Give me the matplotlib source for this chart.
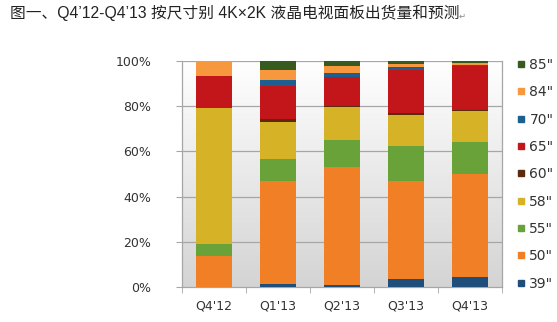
import matplotlib
matplotlib.use('Agg')
import matplotlib.pyplot as plt
from matplotlib.colors import LinearSegmentedColormap
from matplotlib.lines import Line2D
import numpy as np

quarters = ["Q4'12", "Q1'13", "Q2'13", "Q3'13", "Q4'13"]
sizes = ['39"', '50"', '55"', '58"', '60"', '65"', '70"', '84"', '85"']

# share of shipments (%) per size, one list per quarter order
s39 = [0.0, 1.5, 1.2, 3.5, 4.7]
s50 = [13.8, 45.3, 51.7, 43.3, 45.4]
s55 = [5.3, 9.9, 12.3, 15.6, 14.1]
s58 = [60.2, 16.4, 14.4, 13.5, 13.8]
s60 = [0.0, 1.3, 0.6, 0.8, 0.3]
s65 = [13.8, 14.6, 12.6, 19.0, 19.4]
s70 = [0.0, 2.6, 1.8, 1.5, 0.6]
s84 = [6.9, 4.4, 2.9, 1.5, 0.9]
s85 = [0.0, 4.0, 2.5, 1.3, 1.0]

colors = ['#1f4e7a', '#f07f26', '#6aa23a', '#d6b226', '#5a2a0a',
          '#c3161b', '#1d5f8f', '#f7983e', '#375a1f']

series = [s39, s50, s55, s58, s60, s65, s70, s84, s85]

fig = plt.figure(figsize=(5.57, 3.22), dpi=100)
ax = fig.add_axes([0.3268, 0.1078, 0.5745, 0.7037])

# plot area background gradient (white top -> light gray bottom)
cmap = LinearSegmentedColormap.from_list('bg', ['#d4d4d4', '#ffffff'])
grad = np.linspace(0, 1, 256).reshape(-1, 1)
ax.imshow(grad, cmap=cmap, origin='lower', aspect='auto',
          extent=(-0.5, 4.5, 0, 100), zorder=0)

x = np.arange(len(quarters))
bottom = np.zeros(len(quarters))
for vals, c in zip(series, colors):
    ax.bar(x, vals, width=0.5625, bottom=bottom, color=c, zorder=3)
    bottom += np.array(vals)

ax.set_xlim(-0.5, 4.5)
ax.set_ylim(0, 100)
ax.set_yticks([0, 20, 40, 60, 80, 100])
ax.set_yticklabels(['0%', '20%', '40%', '60%', '80%', '100%'])
for yv in [20, 40, 60, 80, 100]:
    ax.axhline(yv, color='#a6a6a6', lw=0.9, zorder=1)

ax.set_xticks(x)
ax.set_xticklabels(quarters)
ax.set_xticks(np.arange(-0.5, 5, 1), minor=True)
ax.tick_params(axis='x', which='major', length=0, pad=9,
               labelsize=9, labelcolor='#333333')
ax.tick_params(axis='x', which='minor', length=4, color='#a6a6a6',
               direction='out')
ax.tick_params(axis='y', length=4, color='#a6a6a6', pad=18,
               labelsize=9, labelcolor='#333333')

for side in ['left', 'right', 'bottom']:
    ax.spines[side].set_color('#a6a6a6')
    ax.spines[side].set_linewidth(0.9)
ax.spines['top'].set_visible(False)

handles = [Line2D([], [], marker='s', linestyle='none', markersize=5,
                  markerfacecolor=c, markeredgecolor=c)
           for c in colors]
leg = fig.legend(handles[::-1], sizes[::-1], loc='upper left',
                 bbox_to_anchor=(0.928, 0.82), frameon=False,
                 fontsize=10, labelspacing=0.96, handlelength=0.6,
                 handletextpad=0.3, borderpad=0, borderaxespad=0)
for t in leg.get_texts():
    t.set_color('#333333')

fig.text(0.018, 0.985, '图一、Q4’12-Q4’13 按尺寸别 4K×2K 液晶电视面板出货量和预测',
         family=['Liberation Sans', 'Noto Sans CJK SC'], fontsize=11.3,
         color='#222222', va='top', ha='left')
fig.text(0.823, 0.962, '↵', family=['DejaVu Sans'], fontsize=6,
         color='#888888', va='top', ha='left')

fig.savefig('out.png', dpi=100)
